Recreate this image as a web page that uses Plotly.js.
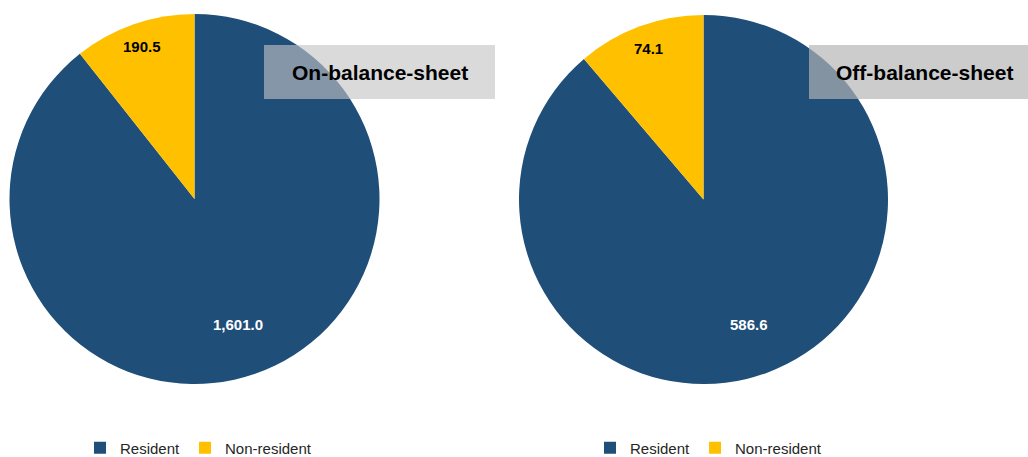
<!DOCTYPE html>
<html>
<head>
<meta charset="utf-8">
<script src="https://cdn.plot.ly/plotly-3.0.1.min.js"></script>
<style>
html,body{margin:0;padding:0;background:#fff;}
#wrap{position:relative;width:1028px;height:457px;overflow:hidden;}
#left{position:absolute;left:0;top:0;width:514px;height:457px;}
#right{position:absolute;left:509px;top:0;width:519px;height:457px;}
</style>
</head>
<body>
<div id="wrap"><div id="left"></div><div id="right"></div></div>
<script>
const categories = ["Resident", "Non-resident"];
const onBalanceValues = [1601.0, 190.5];
const offBalanceValues = [586.6, 74.1];
const panelTitles = ["On-balance-sheet", "Off-balance-sheet"];
const sliceColors = ["#1f4e79", "#ffc000"];
const labelColors = ["#ffffff", "#000000"];
const labelRadiusFrac = [0.72, 0.87];

const H = 457;
const FONT = "Liberation Sans, Arial, sans-serif";

function fmt(v) {
  return v.toLocaleString("en-US", {minimumFractionDigits: 1, maximumFractionDigits: 1});
}

function drawPanel(divId, W, values, title, cx, cy, R, box, boxColor, titleX, legendX) {
  const px = v => v / W;
  const py = v => 1 - v / H;
  const trace = {
    type: "pie",
    labels: categories,
    values: values,
    sort: false,
    direction: "clockwise",
    rotation: 0,
    domain: {x: [px(cx - R), px(cx + R)], y: [py(cy + R), py(cy - R)]},
    marker: {colors: sliceColors, line: {width: 0}},
    textinfo: "none",
    hoverinfo: "label+value",
    showlegend: true
  };
  const total = values.reduce((a, b) => a + b, 0);
  let start = 0;
  const ann = values.map((v, i) => {
    const mid = (start + v / 2) / total * 2 * Math.PI;
    start += v;
    const r = R * labelRadiusFrac[i];
    return {
      xref: "paper", yref: "paper",
      x: px(cx + r * Math.sin(mid)), y: py(cy - r * Math.cos(mid)),
      text: "<b>" + fmt(v) + "</b>", showarrow: false,
      xanchor: "center", yanchor: "middle",
      font: {family: FONT, size: 15, color: labelColors[i]}
    };
  });
  ann.push({
    xref: "paper", yref: "paper", x: px(titleX), y: py(72),
    text: "<b>" + title + "</b>", showarrow: false, xanchor: "center", yanchor: "middle",
    font: {family: FONT, size: 21, color: "#000000"}
  });
  const layout = {
    width: W, height: H,
    margin: {l: 0, r: 0, t: 0, b: 0, pad: 0, autoexpand: false},
    paper_bgcolor: "rgba(0,0,0,0)",
    plot_bgcolor: "rgba(0,0,0,0)",
    showlegend: true,
    legend: {
      orientation: "h", xanchor: "left", yanchor: "middle",
      x: px(legendX), y: py(448),
      font: {family: FONT, size: 15, color: "#262626"},
      bgcolor: "rgba(0,0,0,0)", traceorder: "normal",
      itemwidth: 30
    },
    shapes: [
      {type: "rect", xref: "paper", yref: "paper", x0: px(box[0]), x1: px(box[1]), y0: py(99), y1: py(45),
       fillcolor: boxColor, line: {width: 0}, layer: "above"}
    ],
    annotations: ann
  };
  Plotly.newPlot(divId, [trace], layout, {displayModeBar: false, staticPlot: true});
}

drawPanel("left", 514, onBalanceValues, panelTitles[0], 194.5, 199, 185, [264, 495], "rgba(195,195,195,0.62)", 380, 80);
drawPanel("right", 519, offBalanceValues, panelTitles[1], 703.5 - 509, 199.5, 184.5, [809 - 509, 519], "rgba(180,180,180,0.68)", 924 - 509, 590 - 509);
</script>
</body>
</html>
